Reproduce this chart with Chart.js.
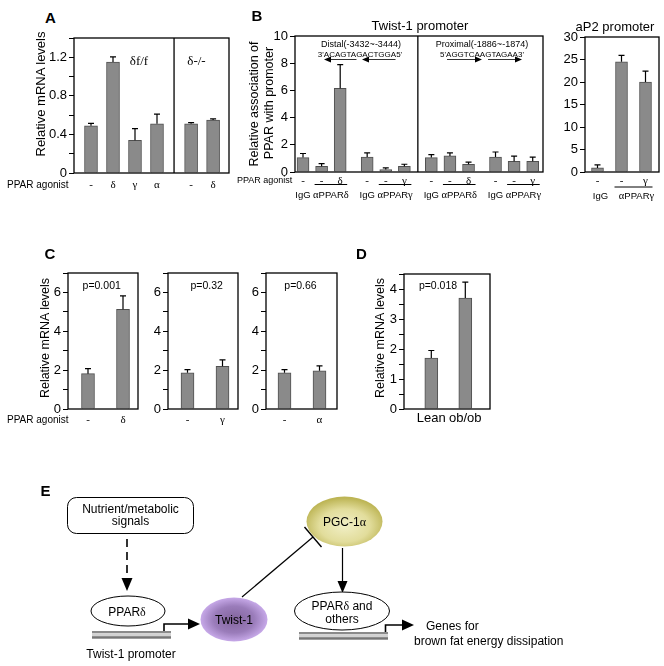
<!DOCTYPE html>
<html>
<head>
<meta charset="utf-8">
<title>Twist-1 / PPARδ figure</title>
<script src="https://cdn.jsdelivr.net/npm/chart.js@4.4.1/dist/chart.umd.min.js"></script>
<style>
  body { margin: 0; background: #fff; }
  #fig { position: relative; width: 664px; height: 666px; overflow: hidden; font-family: "Liberation Sans", Arial, sans-serif; color: #000; }
  #fig canvas { position: absolute; }
  .t { position: absolute; white-space: nowrap; line-height: 1; }
  .g { font-family: "Liberation Serif", "Times New Roman", serif; }
  #art { position: absolute; left: 0; top: 0; }
</style>
</head>
<body>
<div id="fig"></div>
<script>
const SANS = '"Liberation Sans", Arial, sans-serif';
const SERIF = '"Liberation Serif", "Times New Roman", serif';

// ---- data ----

// A: Twist-1 mRNA, δf/f cells and δ-/- cells
const aFloxAgonist = ['-', 'δ', 'γ', 'α'];
const aFloxMean = [0.49, 1.15, 0.34, 0.51];
const aFloxErr = [0.025, 0.055, 0.12, 0.10];
const aNullAgonist = ['-', 'δ'];
const aNullMean = [0.51, 0.55];
const aNullErr = [0.012, 0.012];
const aTickLabels = ['0', '0.4', '0.8', '1.2'];

// B: ChIP, Twist-1 promoter (distal then proximal site)
const bTwistAgonist = ['-', '-', 'δ', '-', '-', 'γ', '-', '-', 'δ', '-', '-', 'γ'];
const bTwistAntibody = ['IgG', 'αPPARδ', 'αPPARδ', 'IgG', 'αPPARγ', 'αPPARγ',
                        'IgG', 'αPPARδ', 'αPPARδ', 'IgG', 'αPPARγ', 'αPPARγ'];
const bTwistMean = [1.06, 0.42, 6.15, 1.10, 0.18, 0.42, 1.06, 1.18, 0.57, 1.10, 0.79, 0.79];
const bTwistErr = [0.30, 0.20, 1.75, 0.30, 0.12, 0.15, 0.22, 0.22, 0.15, 0.37, 0.37, 0.31];
const bTwistTickLabels = ['0', '2', '4', '6', '8', '10'];

// B: ChIP, aP2 promoter
const bAp2Agonist = ['-', '-', 'γ'];
const bAp2Antibody = ['IgG', 'αPPARγ', 'αPPARγ'];
const bAp2Mean = [0.9, 24.5, 20.0];
const bAp2Err = [0.7, 1.4, 2.4];
const bAp2TickLabels = ['0', '5', '10', '15', '20', '25', '30'];

// C: Twist-1 mRNA with each agonist
const cDeltaAgonist = ['-', 'δ'];
const cDeltaMean = [1.82, 5.13];
const cDeltaErr = [0.26, 0.69];
const cGammaAgonist = ['-', 'γ'];
const cGammaMean = [1.86, 2.20];
const cGammaErr = [0.17, 0.33];
const cAlphaAgonist = ['-', 'α'];
const cAlphaMean = [1.86, 1.97];
const cAlphaErr = [0.17, 0.25];
const cPValues = ['p=0.001', 'p=0.32', 'p=0.66'];
const cTickLabels = ['0', '2', '4', '6'];

// D: lean vs ob/ob
const dGroups = ['Lean', 'ob/ob'];
const dMean = [1.70, 3.70];
const dErr = [0.25, 0.53];
const dPValue = 'p=0.018';
const dTickLabels = ['0', '1', '2', '3', '4'];

// ---- helpers ----
const fig = document.getElementById('fig');

function text(html, x, y, o = {}) {
  const d = document.createElement('div');
  d.className = o.serif ? 't g' : 't';
  d.innerHTML = html;
  d.style.left = x + 'px';
  d.style.top = y + 'px';
  d.style.fontSize = (o.size || 12) + 'px';
  if (o.bold) d.style.fontWeight = 'bold';
  let tf = o.left ? 'translateY(-50%)' : 'translate(-50%, -50%)';
  if (o.rot) tf += ' rotate(-90deg)';
  d.style.transform = tf;
  fig.appendChild(d);
}

function isGreek(s) { return /[\u0370-\u03ff]/.test(s); }

// draws "αPPARδ" style labels: greek in serif, the rest in sans
function drawMixed(ctx, s, cx, cy, size) {
  const runs = s.match(/[\u0370-\u03ff]+|[^\u0370-\u03ff]+/g);
  const fonts = runs.map(r => isGreek(r) ? (size + 1) + 'px ' + SERIF : size + 'px ' + SANS);
  let w = 0;
  runs.forEach((r, k) => { ctx.font = fonts[k]; w += ctx.measureText(r).width; });
  let x = cx - w / 2;
  ctx.textAlign = 'left';
  ctx.textBaseline = 'middle';
  ctx.fillStyle = '#000';
  runs.forEach((r, k) => { ctx.font = fonts[k]; ctx.fillText(r, x, cy); x += ctx.measureText(r).width; });
}

// one boxed bar panel; p.box is the plot frame in page pixels
function panel(p) {
  const [L, T, R, B] = p.box;
  const yw = 34, pt = 10, pr = 8, xh = 36;
  const xs = [];
  const groupEnd = [];
  let pos = 0;
  p.sizes.forEach(n => {
    for (let k = 0; k < n; k++) xs.push(pos++);
    groupEnd.push(xs.length - 1);
    pos += p.gap || 0;
  });

  const cv = document.createElement('canvas');
  cv.width = R - L + yw + pr;
  cv.height = B - T + pt + xh;
  cv.style.left = (L - yw) + 'px';
  cv.style.top = (T - pt) + 'px';
  fig.appendChild(cv);

  const nSteps = Math.round(p.yMax / p.yStep);

  const overlay = {
    id: 'overlay',
    afterDatasetsDraw(chart) {
      const ctx = chart.ctx, ys = chart.scales.y;
      ctx.save();
      ctx.strokeStyle = '#000';
      ctx.lineWidth = 1.2;
      chart.getDatasetMeta(0).data.forEach((bar, i) => {
        const top = ys.getPixelForValue(p.mean[i] + p.err[i]);
        ctx.beginPath();
        ctx.moveTo(bar.x, bar.y);
        ctx.lineTo(bar.x, top);
        ctx.moveTo(bar.x - 3, top);
        ctx.lineTo(bar.x + 3, top);
        ctx.stroke();
      });
      ctx.restore();
    },
    afterDraw(chart) {
      const ctx = chart.ctx, a = chart.chartArea, xsc = chart.scales.x;
      ctx.save();
      ctx.strokeStyle = '#000';
      ctx.lineWidth = 1.3;
      ctx.strokeRect(a.left, a.top, a.right - a.left, a.bottom - a.top);
      (p.divideAfter || []).forEach(g => {
        const i = groupEnd[g];
        const px = xsc.getPixelForValue((xs[i] + xs[i + 1]) / 2);
        ctx.beginPath();
        ctx.moveTo(px, a.top);
        ctx.lineTo(px, a.bottom);
        ctx.stroke();
      });
      if (p.antibody) {
        ctx.lineWidth = 1;
        let i = 0;
        while (i < xs.length) {
          let j = i;
          while (j + 1 < xs.length && p.antibody[j + 1] === p.antibody[i]) j++;
          const x0 = xsc.getPixelForValue(xs[i]), x1 = xsc.getPixelForValue(xs[j]);
          drawMixed(ctx, p.antibody[i], (x0 + x1) / 2 + (p.row2Shift || 0), a.bottom + p.row2, 9.5);
          if (j > i) {
            ctx.beginPath();
            ctx.moveTo(x0 - 7, a.bottom + p.uline);
            ctx.lineTo(x1 + 7, a.bottom + p.uline);
            ctx.stroke();
          }
          i = j + 1;
        }
      }
      ctx.restore();
    }
  };

  return new Chart(cv, {
    type: 'bar',
    data: {
      datasets: [{
        data: xs.map((x, i) => ({ x: x, y: p.mean[i] })),
        backgroundColor: '#8a8a8a',
        borderColor: '#505050',
        borderWidth: 1,
        barThickness: p.barW || 13
      }]
    },
    options: {
      responsive: false,
      animation: false,
      devicePixelRatio: 1,
      layout: { padding: { top: pt, right: pr, left: 0, bottom: 0 } },
      plugins: { legend: { display: false }, tooltip: { enabled: false } },
      scales: {
        x: {
          type: 'linear',
          min: (L - p.first) / p.unit,
          max: (R - p.first) / p.unit,
          bounds: 'data',
          offset: false,
          grid: { display: false, drawTicks: false },
          border: { display: false },
          afterBuildTicks: s => { s.ticks = xs.map(v => ({ value: v })); },
          afterFit: s => { s.height = xh; },
          ticks: {
            autoSkip: false,
            maxRotation: 0,
            padding: p.xPad,
            color: '#000',
            font: { family: p.xFamily || SERIF, size: p.xSize || 11 },
            callback: (v, i) => p.agonist[i]
          }
        },
        y: {
          min: 0,
          max: p.yMax,
          bounds: 'data',
          afterFit: s => { s.width = yw; },
          afterBuildTicks: s => {
            const t = [];
            for (let k = 0; k <= nSteps; k++) t.push({ value: +(k * p.yStep).toFixed(6) });
            s.ticks = t;
          },
          ticks: {
            autoSkip: false,
            color: '#000',
            padding: 2,
            font: { family: SANS, size: 13 },
            callback: v => {
              const m = p.yTicks.find(t => Math.abs(Number(t) - v) < 1e-6);
              return m === undefined ? '' : m;
            }
          },
          grid: { drawOnChartArea: false, drawTicks: true, tickLength: 5, color: '#000', lineWidth: 1 },
          border: { display: false }
        }
      }
    },
    plugins: [overlay]
  });
}

// ---- panel A ----
panel({
  box: [74, 38, 229, 173], first: 91, unit: 22, sizes: [4, 2], gap: 0.55, divideAfter: [0],
  agonist: aFloxAgonist.concat(aNullAgonist),
  mean: aFloxMean.concat(aNullMean), err: aFloxErr.concat(aNullErr),
  yMax: 1.4, yStep: 0.2, yTicks: aTickLabels, xPad: 6
});
text('A', 50.5, 17, { size: 15, bold: true });
text('Relative mRNA levels', 40, 94, { size: 13, rot: true });
text('δf/f', 139, 60, { size: 13, serif: true });
text('δ-/-', 196.5, 60, { size: 13, serif: true });
text('PPAR agonist', 7, 185, { size: 10, left: true });

// ---- panel B ----
panel({
  box: [295, 36, 543, 172], first: 303, unit: 18.6, sizes: [3, 3, 3, 3], gap: 0.45, divideAfter: [1],
  agonist: bTwistAgonist, antibody: bTwistAntibody, mean: bTwistMean, err: bTwistErr,
  yMax: 10, yStep: 2, yTicks: bTwistTickLabels, xPad: 3, row2: 23.5, uline: 12.5, barW: 12
});
panel({
  box: [585, 37, 659, 172], first: 597.5, unit: 24, sizes: [3], gap: 0,
  agonist: bAp2Agonist, antibody: bAp2Antibody, mean: bAp2Mean, err: bAp2Err,
  yMax: 30, yStep: 5, yTicks: bAp2TickLabels, xPad: 3, row2: 24.5, uline: 15, barW: 12, row2Shift: 3
});
text('B', 257, 15, { size: 15, bold: true });
text('Twist-1 promoter', 420, 25, { size: 13 });
text('aP2 promoter', 615, 26, { size: 13 });
text('Relative association of', 253.5, 104, { size: 12.5, rot: true });
text('PPAR with promoter', 268.5, 103, { size: 12.5, rot: true });
text('PPAR agonist', 237, 180, { size: 9, left: true });
text('Distal(-3432~-3444)', 361, 43.5, { size: 9 });
text("3'ACAGTAGACTGGA5'", 360, 54.5, { size: 8 });
text('Proximal(-1886~-1874)', 482, 43.5, { size: 9 });
text("5'AGGTCAAGTAGAA3'", 482, 54.5, { size: 8 });

// ---- panel C ----
panel({
  box: [68, 273, 138, 409], first: 88, unit: 35, sizes: [2],
  agonist: cDeltaAgonist, mean: cDeltaMean, err: cDeltaErr,
  yMax: 7, yStep: 1, yTicks: cTickLabels, xPad: 5
});
panel({
  box: [168, 273, 238, 409], first: 187.5, unit: 35, sizes: [2],
  agonist: cGammaAgonist, mean: cGammaMean, err: cGammaErr,
  yMax: 7, yStep: 1, yTicks: cTickLabels, xPad: 5
});
panel({
  box: [266, 273, 337, 409], first: 284.5, unit: 35, sizes: [2],
  agonist: cAlphaAgonist, mean: cAlphaMean, err: cAlphaErr,
  yMax: 7, yStep: 1, yTicks: cTickLabels, xPad: 5
});
text('C', 50, 252.5, { size: 15, bold: true });
text('Relative mRNA levels', 45, 338, { size: 12.5, rot: true });
text('PPAR agonist', 7, 420, { size: 10, left: true });
text(cPValues[0], 101.7, 285, { size: 10.5 });
text(cPValues[1], 206.7, 285, { size: 10.5 });
text(cPValues[2], 300.5, 285, { size: 10.5 });

// ---- panel D ----
panel({
  box: [404, 274, 490, 409], first: 431.3, unit: 34, sizes: [2],
  agonist: dGroups, mean: dMean, err: dErr,
  yMax: 4.5, yStep: 0.5, yTicks: dTickLabels, xPad: 2, xFamily: SANS, xSize: 13
});
text('D', 361.5, 252.5, { size: 15, bold: true });
text('Relative mRNA levels', 380, 338, { size: 12.5, rot: true });
text(dPValue, 438, 285, { size: 10.5 });

// ---- B site arrows and panel E scheme ----
const art = `
<svg id="art" width="664" height="666" viewBox="0 0 664 666" xmlns="http://www.w3.org/2000/svg">
  <defs>
    <radialGradient id="twistFill" cx="50%" cy="50%" r="55%">
      <stop offset="0" stop-color="#82649c"/>
      <stop offset="0.55" stop-color="#9a7cba"/>
      <stop offset="1" stop-color="#d2b4f4"/>
    </radialGradient>
    <radialGradient id="pgcFill" cx="50%" cy="58%" r="55%">
      <stop offset="0" stop-color="#f1efc6"/>
      <stop offset="0.6" stop-color="#e2dd9c"/>
      <stop offset="1" stop-color="#bdb555"/>
    </radialGradient>
  </defs>
  <g stroke="#333" stroke-width="1">
    <line x1="330" y1="59.5" x2="356.5" y2="59.5"/>
    <line x1="368" y1="59.5" x2="395.5" y2="59.5"/>
    <line x1="447" y1="59.5" x2="476" y2="59.5"/>
    <line x1="488" y1="59.5" x2="516" y2="59.5"/>
  </g>
  <polygon points="324,59.5 331,56.5 331,62.5"/>
  <polygon points="362,59.5 369,56.5 369,62.5"/>
  <polygon points="482,59.5 475,56.5 475,62.5"/>
  <polygon points="522,59.5 515,56.5 515,62.5"/>

  <g font-family='"Liberation Sans", Arial, sans-serif' font-size="12" text-anchor="middle" dominant-baseline="central">
    <text x="45.5" y="490" font-size="15" font-weight="bold">E</text>
    <rect x="67.5" y="497.5" width="126" height="36" rx="9" ry="9" fill="#fff" stroke="#000" stroke-width="1"/>
    <text x="130.5" y="508.5">Nutrient/metabolic</text>
    <text x="130.5" y="521">signals</text>
    <line x1="127" y1="539" x2="127" y2="579" stroke="#000" stroke-width="1.6" stroke-dasharray="8 5"/>
    <polygon points="121.5,578 132.5,578 127,591"/>

    <ellipse cx="128" cy="611" rx="37" ry="15" fill="#fff" stroke="#000"/>
    <text x="127" y="611.5">PPAR<tspan font-family='"Liberation Serif", serif'>δ</tspan></text>
    <rect x="92" y="631" width="79" height="2.2" fill="#8a8a8a"/>
    <rect x="92" y="633.2" width="79" height="3" fill="#d2d2d2"/>
    <rect x="92" y="636.2" width="79" height="2.5" fill="#777"/>
    <polyline points="164,631 164,624 189,624" fill="none" stroke="#000" stroke-width="1.6"/>
    <polygon points="188,618.5 188,629.5 200,624"/>
    <text x="131" y="654">Twist-1 promoter</text>

    <ellipse cx="234" cy="619.5" rx="33.5" ry="22" fill="url(#twistFill)"/>
    <text x="234" y="620">Twist-1</text>
    <line x1="242" y1="597" x2="313" y2="537" stroke="#000" stroke-width="1.2"/>
    <line x1="304.5" y1="527" x2="321.5" y2="547" stroke="#000" stroke-width="1.4"/>

    <ellipse cx="344.5" cy="521.5" rx="38" ry="25" fill="url(#pgcFill)"/>
    <text x="344.5" y="522">PGC-1<tspan font-family='"Liberation Serif", serif'>α</tspan></text>
    <line x1="342.5" y1="548" x2="342.5" y2="582" stroke="#000" stroke-width="1.2"/>
    <polygon points="337.5,581 347.5,581 342.5,593"/>

    <ellipse cx="342" cy="611" rx="47.5" ry="19" fill="#fff" stroke="#000"/>
    <text x="342" y="605.5">PPAR<tspan font-family='"Liberation Serif", serif'>δ</tspan> and</text>
    <text x="342" y="618.5">others</text>
    <rect x="299" y="632" width="89" height="2.2" fill="#8a8a8a"/>
    <rect x="299" y="634.2" width="89" height="3" fill="#d2d2d2"/>
    <rect x="299" y="637.2" width="89" height="2.5" fill="#777"/>
    <polyline points="385.5,632 385.5,625 403,625" fill="none" stroke="#000" stroke-width="1.6"/>
    <polygon points="402,619.5 402,630.5 414,625"/>
    <text x="426" y="626" text-anchor="start">Genes for</text>
    <text x="414" y="641" text-anchor="start">brown fat energy dissipation</text>
  </g>
</svg>`;
fig.insertAdjacentHTML('beforeend', art);
</script>
</body>
</html>
